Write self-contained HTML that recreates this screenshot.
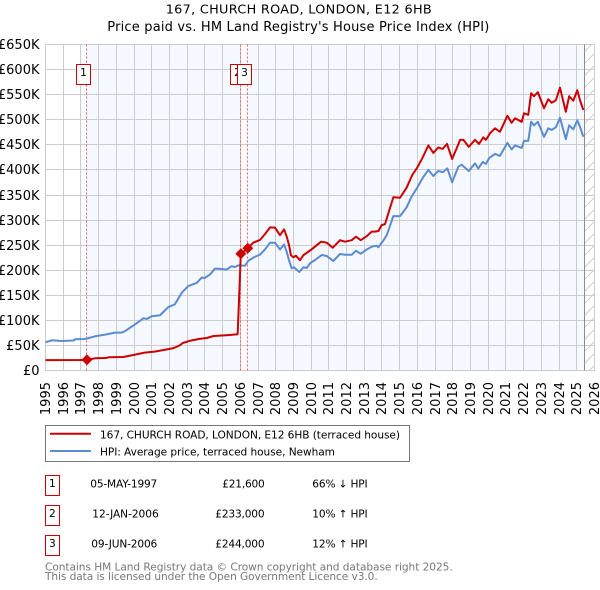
<!DOCTYPE html>
<html>
<head>
<meta charset="utf-8">
<title>167, CHURCH ROAD, LONDON, E12 6HB</title>
<style>
html,body{margin:0;padding:0;background:#fff;}
body{width:600px;height:590px;overflow:hidden;}
svg{display:block;font-family:"DejaVu Sans",sans-serif;}
text{fill:#000;}
</style>
</head>
<body>
<svg id="chart" width="600" height="590" viewBox="0 0 600 590" xmlns="http://www.w3.org/2000/svg">
  <defs>
    <pattern id="hatch" patternUnits="userSpaceOnUse" width="12" height="12">
      <path d="M-1 13 L13 -1" stroke="#cccccc" stroke-width="1" fill="none"/>
    </pattern>
  </defs>
  <text x="165.7" y="13.5" font-size="12.8" textLength="266" lengthAdjust="spacing">167, CHURCH ROAD, LONDON, E12 6HB</text>
  <text x="107.3" y="31" font-size="13" textLength="382" lengthAdjust="spacing">Price paid vs. HM Land Registry's House Price Index (HPI)</text>
  <g id="plot"></g>

  <g>
    <rect x="45.5" y="425.5" width="364" height="36" fill="#fff" stroke="#777" stroke-width="1"/>
    <line x1="50" y1="433.7" x2="91" y2="433.7" stroke="#cc0000" stroke-width="2"/>
    <text x="100" y="438.5" font-size="10.6" textLength="300" lengthAdjust="spacing">167, CHURCH ROAD, LONDON, E12 6HB (terraced house)</text>
    <line x1="50" y1="451" x2="91" y2="451" stroke="#5b8bd0" stroke-width="2"/>
    <text x="100" y="455.5" font-size="10.6" textLength="235" lengthAdjust="spacing">HPI: Average price, terraced house, Newham</text>
  </g>

  <g font-size="10.6">
    <rect x="45.5" y="475.5" width="14" height="20" fill="#fff" stroke="#cc0000" stroke-width="1"/>
    <text x="52.4" y="487" text-anchor="middle">1</text>
    <text x="90.3" y="487.3" textLength="67" lengthAdjust="spacing">05-MAY-1997</text>
    <text x="222.3" y="487.3" textLength="42.4" lengthAdjust="spacing">£21,600</text>
    <text x="312.3" y="487.3" textLength="55.3" lengthAdjust="spacing">66% ↓ HPI</text>

    <rect x="45.5" y="505.5" width="14" height="20" fill="#fff" stroke="#cc0000" stroke-width="1"/>
    <text x="52.4" y="517" text-anchor="middle">2</text>
    <text x="92.3" y="517.3" textLength="66.4" lengthAdjust="spacing">12-JAN-2006</text>
    <text x="215.3" y="517.3" textLength="49.3" lengthAdjust="spacing">£233,000</text>
    <text x="312.3" y="517.3" textLength="55.3" lengthAdjust="spacing">10% ↑ HPI</text>

    <rect x="45.5" y="535.5" width="14" height="20" fill="#fff" stroke="#cc0000" stroke-width="1"/>
    <text x="52.4" y="547" text-anchor="middle">3</text>
    <text x="91.3" y="547.3" textLength="66" lengthAdjust="spacing">09-JUN-2006</text>
    <text x="215.3" y="547.3" textLength="49.3" lengthAdjust="spacing">£244,000</text>
    <text x="312.3" y="547.3" textLength="55.3" lengthAdjust="spacing">12% ↑ HPI</text>
  </g>

  <text x="45" y="570.3" font-size="10.6" textLength="407.7" lengthAdjust="spacing" style="fill:#777">Contains HM Land Registry data © Crown copyright and database right 2025.</text>
  <text x="45" y="580" font-size="10.6" textLength="332.7" lengthAdjust="spacing" style="fill:#777">This data is licensed under the Open Government Licence v3.0.</text>
</svg>

<script>
// ---- chart data (years as decimal dates, values in £K) ----
const xTickYears = [1995,1996,1997,1998,1999,2000,2001,2002,2003,2004,2005,2006,2007,2008,2009,2010,2011,2012,2013,2014,2015,2016,2017,2018,2019,2020,2021,2022,2023,2024,2025,2026];
const yTickValues = [0,50,100,150,200,250,300,350,400,450,500,550,600,650];
const yTickLabels = ["£0","£50K","£100K","£150K","£200K","£250K","£300K","£350K","£400K","£450K","£500K","£550K","£600K","£650K"];

const hpiYears = [1995,1995.36,1995.9,1996.58,1996.68,1997.24,1997.8,1998.37,1998.93,1999.3,1999.5,2000.06,2000.53,2000.72,2001,2001.47,2001.94,2002.3,2002.7,2003.07,2003.54,2003.82,2004,2004.3,2004.57,2004.95,2005.23,2005.5,2005.7,2005.9,2006.26,2006.45,2006.83,2007.11,2007.39,2007.68,2007.96,2008.24,2008.47,2008.62,2008.73,2008.9,2009.03,2009.33,2009.56,2009.75,2009.94,2010.22,2010.6,2010.88,2011.25,2011.63,2011.91,2012.29,2012.53,2012.8,2013.14,2013.42,2013.7,2013.8,2014.07,2014.27,2014.64,2015.02,2015.39,2015.68,2015.96,2016.33,2016.62,2016.9,2017.18,2017.43,2017.69,2017.96,2018.31,2018.5,2018.9,2019.25,2019.44,2019.69,2019.87,2020.06,2020.38,2020.66,2021.08,2021.32,2021.51,2021.89,2022.02,2022.26,2022.42,2022.58,2022.8,2023.15,2023.39,2023.58,2023.82,2024.05,2024.38,2024.57,2024.8,2025.03,2025.18,2025.37];
const hpiValues = [56.5,60.4,59,60,62.4,63,68.4,71.7,75.7,75.7,79,92.3,104.3,103,108.3,110.3,126.9,132,155.6,168.8,174.7,185.5,184.7,192,203.4,202.6,201.4,208,206.6,210,209,219,227,231,241.5,255,255,241.5,251.5,237,222,204,206,196.5,206,204.5,214,220.5,230.5,228.5,218.5,232.5,231,231,239,233,241.5,247,249,246,259,270,308,308,325.5,347.5,363,386,400,388,398,395.5,403,375.5,406.5,410.5,398,413,403,416,412,424,432,428,454,441,449,444,458,458,496,489,496,466,483,480,485,504,461.5,489,481,499,486,466];

const paidYears = [1995,1997,1997.34,1997.8,1998.4,1998.55,1999.4,2000.06,2000.6,2001.15,2001.6,2002.2,2002.55,2002.75,2003.2,2003.65,2004.1,2004.5,2004.85,2005.4,2005.85,2006.03,2006.42,2006.73,2007.11,2007.39,2007.68,2007.96,2008.24,2008.47,2008.62,2008.75,2008.86,2008.99,2009.14,2009.37,2009.56,2010.03,2010.56,2010.88,2011.22,2011.63,2011.91,2012.29,2012.53,2012.8,2013.14,2013.42,2013.6,2013.8,2013.98,2014.17,2014.64,2015.02,2015.39,2015.71,2015.96,2016.27,2016.62,2016.9,2017.18,2017.43,2017.67,2017.96,2018.18,2018.41,2018.6,2018.9,2019.25,2019.48,2019.72,2019.87,2020.1,2020.38,2020.66,2021.08,2021.32,2021.51,2021.89,2022.02,2022.26,2022.42,2022.58,2022.8,2023.15,2023.39,2023.58,2023.82,2024.05,2024.38,2024.57,2024.8,2025.03,2025.18,2025.37];
const paidValues = [21,21.2,21.6,24.5,25,26.5,27.2,31.9,35.9,37.9,40.5,44.5,49.8,55,59.8,63,65,69,69.8,71,72.4,233,244,255,260.4,272,285.6,285,270,281.7,267,250.4,230,226,229,220,230,241.8,257,255,245,260,257,260,267,260,268,277,277,278.3,290,292,345.5,344.7,364.7,390,403,423,449,434,445,442,452,422,440,460,460,446,460,452,465,460,473,483,476,508,494,503,496,513,510,553,547,555,523,541,534,539,564,516,547,538,559,539,519.5];

const saleYears = [1997.34,2006.03,2006.42];
const saleValues = [21.6,233,244];
const saleLabels = ["1","2","3"];
const lastDataYear = 2025.42;

// ---- axis functions ----
const X0 = 45.5, X_PER_YEAR = 17.71, Y0 = 370.6, Y_PER_K = 25.08 / 50;
function xScale(year){ return X0 + (year - 1995) * X_PER_YEAR; }
function yScale(k){ return Y0 - k * Y_PER_K; }
function snap(v){ return Math.floor(v) + 0.5; }

const NS = "http://www.w3.org/2000/svg";
const plot = document.getElementById("plot");
function make(tag, attrs){
  const el = document.createElementNS(NS, tag);
  for (const k in attrs) el.setAttribute(k, attrs[k]);
  plot.appendChild(el);
  return el;
}

const top_ = yScale(650), bottom_ = yScale(0), left_ = xScale(1995), right_ = xScale(2026);

// shaded ownership periods
const shadeA = make("rect", {x:xScale(saleYears[0]), y:top_, width:xScale(saleYears[1])-xScale(saleYears[0]), height:bottom_-top_, fill:"#f5f8ff"});


const shadeB = make("rect", {x:xScale(saleYears[2]), y:top_, width:xScale(lastDataYear)-xScale(saleYears[2]), height:bottom_-top_, fill:"#f5f8ff"});



// forecast hatch
const hatch = make("rect", {x:xScale(lastDataYear), y:top_, width:right_-xScale(lastDataYear), height:bottom_-top_, fill:"url(#hatch)"});



// grid + tick labels
yTickValues.forEach(function(v, i){
  const y = snap(yScale(v));
  const g = make("line", {x1:left_, x2:right_, y1:y, y2:y, stroke:"#cccccc", "stroke-width":1});
  
  
  const t = make("text", {x:39.5, y:y+4.5, "font-size":13, "text-anchor":"end"});
  
  
  t.textContent = yTickLabels[i];
});
xTickYears.forEach(function(yr){
  const x = snap(xScale(yr));
  const g = make("line", {x1:x, x2:x, y1:top_, y2:bottom_, stroke:"#cccccc", "stroke-width":1});
  
  
  const t = make("text", {"font-size":13, "text-anchor":"end", transform:"translate(" + (x+4.5) + ",382) rotate(-90)"});
  
  
  t.textContent = yr;
});

// last data vertical line
const lastLineX = snap(xScale(lastDataYear));
const lastLine = make("line", {x1:lastLineX, x2:lastLineX, y1:top_, y2:bottom_, stroke:"#8c8c8c", "stroke-width":1});



// sale dashed lines
saleYears.forEach(function(yr){
  const x = snap(xScale(yr));
  const l = make("line", {x1:x, x2:x, y1:top_, y2:bottom_, stroke:"#ff5a5a", "stroke-width":1, "stroke-dasharray":"2 2"});
  
  
});

function pathFrom(xs, ys){
  return xs.map(function(x, i){ return (i ? "L" : "M") + xScale(x).toFixed(2) + " " + yScale(ys[i]).toFixed(2); }).join("");
}
const hpiLine = make("path", {d:pathFrom(hpiYears, hpiValues), fill:"none", stroke:"#5b8bd0", "stroke-width":2, "stroke-linejoin":"round"});


const paidLine = make("path", {d:pathFrom(paidYears, paidValues), fill:"none", stroke:"#cc0000", "stroke-width":2, "stroke-linejoin":"round"});



// sale markers
saleYears.forEach(function(yr, i){
  const cx = xScale(yr), cy = yScale(saleValues[i]), r = 5.5;
  const m = make("polygon", {points:[cx,cy-r,cx+r,cy,cx,cy+r,cx-r,cy].join(" "), fill:"#cc0000"});
  
  
});

// numbered flags
saleYears.forEach(function(yr, i){
  const bx = Math.floor(xScale(yr)) - 9.5;
  const b = make("rect", {x:bx, y:64.5, width:14, height:20, fill:"#fff", stroke:"#cc0000", "stroke-width":1});
  
  
  const t = make("text", {x:bx+7, y:76, "font-size":10.6, "text-anchor":"middle"});
  
  
  t.textContent = saleLabels[i];
});
</script>
</body>
</html>
